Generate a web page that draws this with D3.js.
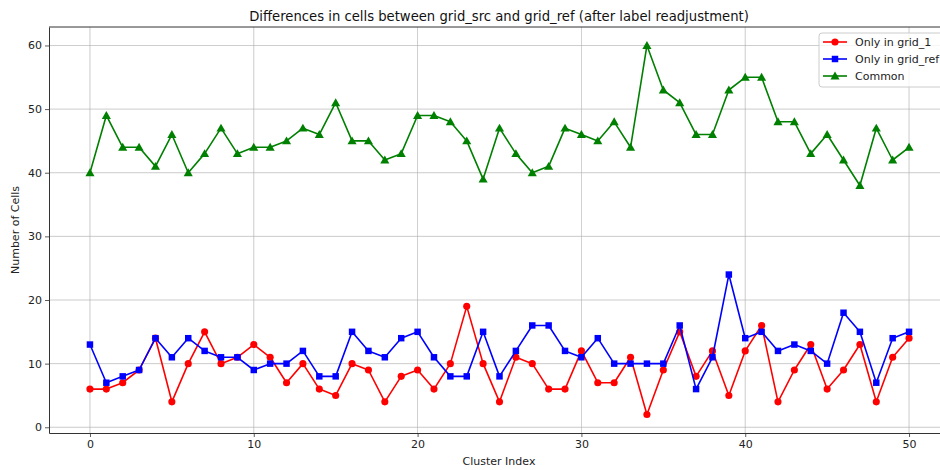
<!DOCTYPE html>
<html>
<head>
<meta charset="utf-8">
<script src="https://cdn.jsdelivr.net/npm/d3@7"></script>
<style>
  html, body { margin: 0; padding: 0; background: #fff; overflow: hidden; }
  svg { display: block; font-family: "DejaVu Sans", sans-serif; }
</style>
</head>
<body>
<svg id="chart" width="940" height="470"></svg>
<script>
// Cluster indices 0..50
const clusters = d3.range(0, 51);

// Cells found only in grid_1
const onlyGrid1 = [6, 6, 7, 9, 14, 4, 10, 15, 10, 11, 13, 11, 7, 10, 6, 5, 10, 9, 4, 8,
  9, 6, 10, 19, 10, 4, 11, 10, 6, 6, 12, 7, 7, 11, 2, 9, 15, 8, 12, 5,
  12, 16, 4, 9, 13, 6, 9, 13, 4, 11, 14];

// Cells found only in grid_ref
const onlyGridRef = [13, 7, 8, 9, 14, 11, 14, 12, 11, 11, 9, 10, 10, 12, 8, 8, 15, 12, 11, 14,
  15, 11, 8, 8, 15, 8, 12, 16, 16, 12, 11, 14, 10, 10, 10, 10, 16, 6, 11, 24,
  14, 15, 12, 13, 12, 10, 18, 15, 7, 14, 15];

// Cells present in both grids
const common = [40, 49, 44, 44, 41, 46, 40, 43, 47, 43, 44, 44, 45, 47, 46, 51, 45, 45, 42, 43,
  49, 49, 48, 45, 39, 47, 43, 40, 41, 47, 46, 45, 48, 44, 60, 53, 51, 46, 46, 53,
  55, 55, 48, 48, 43, 46, 42, 38, 47, 42, 44];

const xTicks = [0, 10, 20, 30, 40, 50];
const yTicks = [0, 10, 20, 30, 40, 50, 60];

const seriesList = [
  { name: "Only in grid_1", values: onlyGrid1, color: "#ff0000", marker: "circle" },
  { name: "Only in grid_ref", values: onlyGridRef, color: "#0000ff", marker: "square" },
  { name: "Common", values: common, color: "#008000", marker: "triangle" }
];

const svg = d3.select("#chart");
const plotLeft = 49, plotTop = 27, plotW = 901, plotH = 406;

const x = d3.scaleLinear().domain([-2.5, 52.5]).range([plotLeft, plotLeft + plotW]);
const y = d3.scaleLinear().domain([-0.9, 62.9]).range([plotTop + plotH, plotTop]);

// grid lines
const grid = svg.append("g");
grid.selectAll("line.gx").data(xTicks).join("line")
  .attr("x1", d => x(d)).attr("x2", d => x(d))
  .attr("y1", plotTop).attr("y2", plotTop + plotH)
  .attr("stroke", "#b0b0b0").attr("stroke-width", 0.8).attr("opacity", 0.8);
grid.selectAll("line.gy").data(yTicks).join("line")
  .attr("x1", plotLeft).attr("x2", plotLeft + plotW)
  .attr("y1", d => y(d)).attr("y2", d => y(d))
  .attr("stroke", "#b0b0b0").attr("stroke-width", 0.8).attr("opacity", 0.8);

// series lines and markers
const line = d3.line().x((d, i) => x(clusters[i])).y(d => y(d));
const symbols = {
  circle: d3.symbol().type(d3.symbolCircle).size(40),
  square: d3.symbol().type(d3.symbolSquare).size(42),
  triangle: d3.symbol().type(d3.symbolTriangle).size(36)
};

seriesList.forEach(s => {
  const g = svg.append("g");
  g.append("path").datum(s.values)
    .attr("d", line)
    .attr("fill", "none")
    .attr("stroke", s.color)
    .attr("stroke-width", 1.6)
    .attr("stroke-linejoin", "round");
  g.selectAll("path.m").data(s.values).join("path")
    .attr("class", "m")
    .attr("d", symbols[s.marker])
    .attr("transform", (d, i) => `translate(${x(clusters[i])},${y(d) + (s.marker === "triangle" ? 0.8 : 0)})`)
    .attr("fill", s.color);
});

// axes
const xAxis = svg.append("g")
  .attr("transform", `translate(0,${plotTop + plotH})`)
  .call(d3.axisBottom(x).tickValues(xTicks).tickSize(4).tickSizeOuter(0).tickPadding(3).tickFormat(d3.format("d")));
const yAxis = svg.append("g")
  .attr("transform", `translate(${plotLeft},0)`)
  .call(d3.axisLeft(y).tickValues(yTicks).tickSize(4).tickSizeOuter(0).tickPadding(3).tickFormat(d3.format("d")));
[xAxis, yAxis].forEach(a => {
  a.select(".domain").attr("stroke", "#333").attr("stroke-width", 1);
  a.selectAll(".tick line").attr("stroke", "#333").attr("stroke-width", 0.8);
  a.selectAll(".tick text").attr("fill", "#222").attr("font-size", 11)
    .attr("font-family", "DejaVu Sans");
});

// top spine
svg.append("line")
  .attr("x1", plotLeft).attr("x2", plotLeft + plotW)
  .attr("y1", plotTop).attr("y2", plotTop)
  .attr("stroke", "#333").attr("stroke-width", 1);

// title and axis labels
svg.append("text")
  .attr("x", 499).attr("y", 21)
  .attr("text-anchor", "middle")
  .attr("font-size", 13.2).attr("fill", "#111")
  .text("Differences in cells between grid_src and grid_ref (after label readjustment)");
svg.append("text")
  .attr("x", 499).attr("y", 465)
  .attr("text-anchor", "middle")
  .attr("font-size", 11).attr("fill", "#222")
  .text("Cluster Index");
svg.append("text")
  .attr("transform", `translate(19,${plotTop + plotH / 2}) rotate(-90)`)
  .attr("text-anchor", "middle")
  .attr("font-size", 11).attr("fill", "#222")
  .text("Number of Cells");

// legend
const legend = svg.append("g").attr("transform", "translate(819,33)");
legend.append("rect")
  .attr("x", 0).attr("y", 0).attr("width", 140).attr("height", 54)
  .attr("rx", 3)
  .attr("fill", "#fff").attr("fill-opacity", 0.8)
  .attr("stroke", "#cccccc").attr("stroke-width", 1);
seriesList.forEach((s, i) => {
  const cy = 9 + i * 17;
  legend.append("line")
    .attr("x1", 4).attr("x2", 28).attr("y1", cy).attr("y2", cy)
    .attr("stroke", s.color).attr("stroke-width", 1.6);
  legend.append("path")
    .attr("d", symbols[s.marker])
    .attr("transform", `translate(16,${cy + (s.marker === "triangle" ? 0.8 : 0)})`)
    .attr("fill", s.color);
  legend.append("text")
    .attr("x", 36).attr("y", cy + 4)
    .attr("font-size", 11).attr("fill", "#222")
    .text(s.name);
});
</script>
</body>
</html>
